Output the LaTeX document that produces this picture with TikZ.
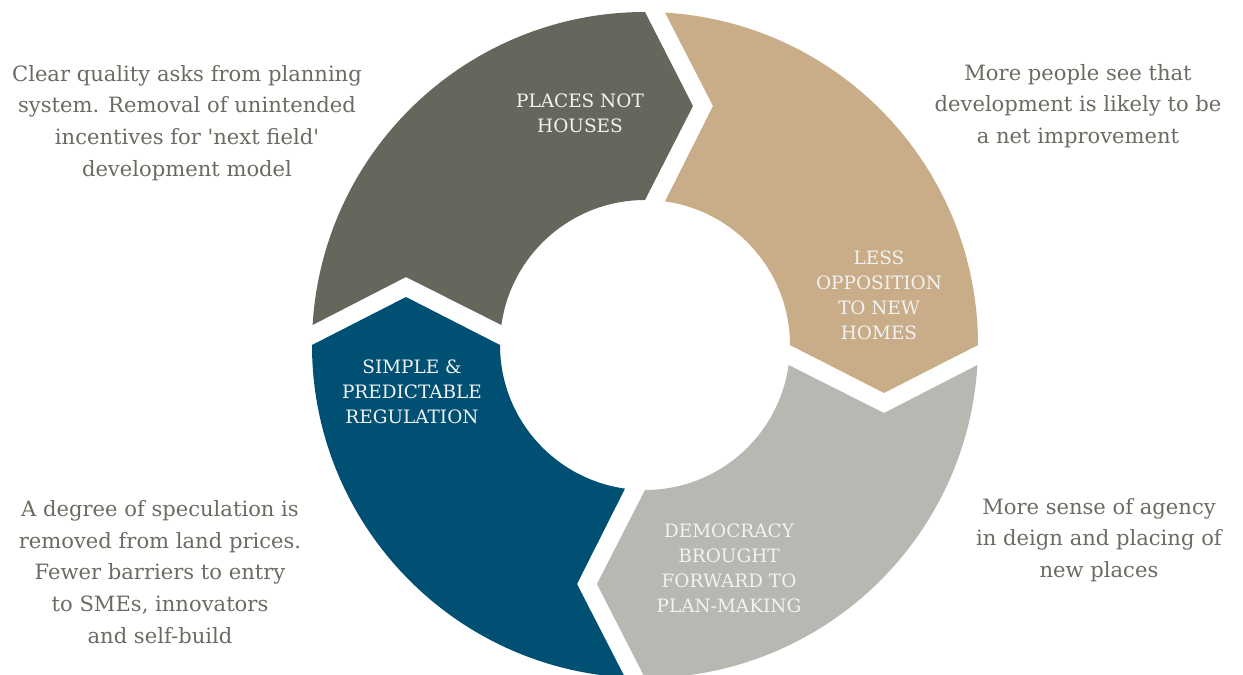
\documentclass[tikz,border=0pt]{standalone}
\usepackage{fontspec}
\setmainfont{DejaVu Serif}
\usepackage{tikz}

\definecolor{darkolive}{RGB}{102,103,92}
\definecolor{tanbrown}{RGB}{200,173,136}
\definecolor{lightgrey}{RGB}{184,183,177}
\definecolor{deepblue}{RGB}{0,80,115}
\definecolor{textgrey}{RGB}{107,107,98}

\begin{document}
\begin{tikzpicture}[
    ringlabel/.style={text=white!95!black, align=center, inner sep=0pt,
      font=\fontsize{10.5}{14.2}\selectfont},
    sidetext/.style={text=textgrey, align=center, inner sep=0pt,
      font=\fontsize{12}{18.1}\selectfont}]
      \useasboundingbox (-12.9,-6.58) rectangle (11.96,6.9);
      % segmentos del anillo
      \foreach \ang/\col in {0/darkolive,-90/tanbrown,-180/lightgrey,90/deepblue}
      \fill[\col, rotate=\ang] (-6.648,0.4) -- (-4.78,1.36) -- (-2.872,0.4)
        arc[start angle=172.07, end angle=90, radius=2.9] -- (0.96,4.78) -- (0,6.66)
        arc[start angle=90, end angle=176.56, radius=6.66] -- cycle;
      % etiquetas del anillo
      \node[ringlabel] (places) at (-1.3,4.64) {PLACES NOT\\HOUSES};
      \node[ringlabel] (opposition) at (4.68,1.0) {LESS\\OPPOSITION\\TO NEW\\HOMES};
      \node[ringlabel] (democracy) at (1.68,-4.46) {DEMOCRACY\\BROUGHT\\FORWARD TO\\PLAN-MAKING};
      \node[ringlabel] (regulation) at (-4.66,-0.94) {SIMPLE \&\\PREDICTABLE\\REGULATION};
      % textos laterales
      \node[sidetext] (quality) at (-9.16,4.44) {Clear quality asks from planning\\system. Removal of unintended\\incentives for \textquotesingle next field\textquotesingle\\development model};
      \node[sidetext] (people) at (8.66,4.78) {More people see that\\development is likely to be\\a net improvement};
      \node[sidetext] (agency) at (9.08,-3.9) {More sense of agency\\in deign and placing of\\new places};
      \node[sidetext] (speculation) at (-9.7,-4.54) {A degree of speculation is\\removed from land prices.\\Fewer barriers to entry\\to SMEs, innovators\\and self-build};
  \end{tikzpicture}
\end{document}
